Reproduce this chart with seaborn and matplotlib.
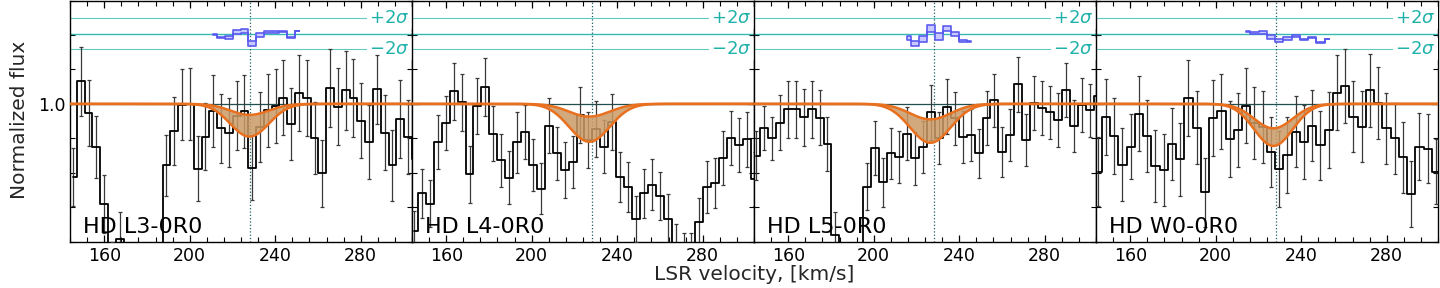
import numpy as np
import matplotlib
matplotlib.use("Agg")
import matplotlib.pyplot as plt
import matplotlib.transforms as mtransforms
from matplotlib.ticker import MultipleLocator
import seaborn as sns

panel_labels = ["HD L3-0R0", "HD L4-0R0", "HD L5-0R0", "HD W0-0R0"]

# velocity grid of each transition: first bin centre and bin width [km/s]
v_start = [145.4, 144.95, 144.9, 144.8]
v_step = [3.645, 3.708, 3.72, 3.86]

flux_l3 = [0.788, 1.065, 0.973, 0.876, 0.710, 0.52, 0.608, 0.45, 0.35, 0.30, 0.30, 0.38,
           0.822, 0.921, 0.998, 1.0, 0.812, 0.905, 0.98, 0.929, 0.916, 0.966, 0.978, 0.815,
           0.932, 0.981, 0.994, 1.018, 0.942, 1.031, 1.018, 0.90, 0.798, 1.046, 0.992, 1.039,
           1.016, 0.951, 0.89, 1.043, 0.916, 0.822, 0.956, 0.903, 0.84]
err_l3 = [0.083, 0.1, 0.095, 0.09, 0.085, 0.08, 0.078, 0.08, 0.08, 0.08, 0.08, 0.08,
          0.088, 0.099, 0.103, 0.104, 0.094, 0.097, 0.105, 0.10, 0.10, 0.10, 0.107, 0.094,
          0.102, 0.106, 0.107, 0.108, 0.104, 0.11, 0.11, 0.104, 0.098, 0.113, 0.112, 0.114,
          0.113, 0.109, 0.107, 0.10, 0.109, 0.103, 0.112, 0.107, 0.105]

flux_l4 = [0.63, 0.740, 0.71, 0.89, 0.944, 1.036, 1.004, 0.796, 0.994, 1.05, 0.914, 0.837,
           0.786, 0.888, 0.919, 0.822, 0.754, 0.936, 0.856, 0.808, 0.832, 0.968, 0.895, 0.927,
           0.876, 0.948, 0.788, 0.759, 0.667, 0.74, 0.766, 0.733, 0.667, 0.585, 0.56, 0.56,
           0.657, 0.759, 0.771, 0.842, 0.90, 0.88, 0.897, 0.783]
err_l4 = [0.06, 0.07, 0.068, 0.078, 0.079, 0.084, 0.082, 0.083, 0.082, 0.084, 0.08, 0.077,
          0.078, 0.088, 0.078, 0.075, 0.073, 0.08, 0.078, 0.08, 0.075, 0.081, 0.08, 0.08,
          0.078, 0.082, 0.073, 0.072, 0.067, 0.071, 0.073, 0.07, 0.07, 0.066, 0.065, 0.065,
          0.07, 0.075, 0.073, 0.078, 0.078, 0.078, 0.08, 0.078]

flux_l5 = [0.85, 0.93, 0.90, 0.945, 0.984, 0.984, 0.961, 0.984, 0.96, 0.883, 0.62, 0.5,
           0.5, 0.52, 0.759, 0.871, 0.772, 0.856, 0.845, 0.914, 0.842, 0.874, 0.976, 0.90,
           0.992, 0.958, 0.903, 0.91, 0.856, 0.958, 1.01, 0.861, 0.91, 1.057, 0.895, 1.002,
           0.987, 0.975, 0.953, 1.041, 0.936, 0.997, 0.981, 1.024]
err_l5 = [0.07, 0.065, 0.063, 0.08, 0.083, 0.083, 0.082, 0.083, 0.08, 0.079, 0.065, 0.065,
          0.065, 0.066, 0.068, 0.078, 0.07, 0.075, 0.075, 0.078, 0.077, 0.076, 0.08, 0.075,
          0.08, 0.076, 0.075, 0.075, 0.072, 0.078, 0.078, 0.073, 0.075, 0.08, 0.075, 0.079,
          0.078, 0.078, 0.078, 0.079, 0.076, 0.078, 0.078, 0.078]

flux_w0 = [0.803, 0.963, 0.907, 0.824, 0.876, 0.972, 0.907, 0.82, 0.808, 0.883, 0.839, 1.017,
           0.931, 0.744, 0.958, 0.978, 0.897, 0.924, 0.995, 0.944, 0.932, 0.861, 0.81, 0.851,
           0.919, 0.89, 0.936, 0.88, 0.924, 1.033, 1.052, 0.963, 0.934, 1.039, 1.002, 0.929,
           0.90, 0.845, 0.738, 0.876, 0.87, 0.803, 0.86]
err_w0 = [0.1, 0.11, 0.11, 0.105, 0.095, 0.11, 0.105, 0.105, 0.105, 0.105, 0.105, 0.11,
          0.105, 0.1, 0.11, 0.11, 0.11, 0.108, 0.11, 0.105, 0.105, 0.102, 0.11, 0.11,
          0.103, 0.108, 0.103, 0.1, 0.11, 0.11, 0.107, 0.103, 0.103, 0.106, 0.105, 0.103,
          0.103, 0.103, 0.095, 0.097, 0.1, 0.094, 0.1]

fluxes = [flux_l3, flux_l4, flux_l5, flux_w0]
errors = [err_l3, err_l4, err_l5, err_w0]

# absorption model: centre, shallow / deep solution depth, gaussian width
line_center = [228.0, 227.0, 226.5, 227.0]
depth_lo = [0.032, 0.037, 0.045, 0.071]
depth_hi = [0.095, 0.11, 0.113, 0.122]
line_width = [9.0, 9.5, 9.5, 9.0]
v_cloud = 228.0

# velocity range of the plotted fit residuals (none shown for L4)
resid_range = [(210, 252), None, (212, 246), (213, 254)]
resid_zero = 1.204
resid_sigma = 0.0225

sns.set_theme(style="ticks")
plt.rcParams["font.family"] = ["DejaVu Sans"]
plt.rcParams["mathtext.fontset"] = "dejavusans"

fig = plt.figure(figsize=(14.4, 2.88), dpi=100)
W, H = 1440.0, 288.0
ax_left, ax_w, ax_bot, ax_h = 70, 342, 46.3, 241.2

vv = np.linspace(140, 310, 600)
sig_col = "lightseagreen"

for i in range(4):
    ax = fig.add_axes([(ax_left + i * ax_w) / W, ax_bot / H, ax_w / W, ax_h / H])
    v = v_start[i] + v_step[i] * np.arange(len(fluxes[i]))
    f = np.array(fluxes[i])
    e = np.array(errors[i])

    # 2 sigma band of the residuals
    for yy in (resid_zero + 2 * resid_sigma, resid_zero - 2 * resid_sigma):
        ax.axhline(yy, color=sig_col, lw=0.8, alpha=0.7, zorder=1)
    ax.axhline(resid_zero, color=sig_col, lw=1.0, alpha=0.9, zorder=1)
    trans = mtransforms.blended_transform_factory(ax.transAxes, ax.transData)
    for yy, txt in ((resid_zero + 2 * resid_sigma, r"$+2\sigma$"),
                    (resid_zero - 2 * resid_sigma, r"$-2\sigma$")):
        ax.text(0.993, yy, txt, transform=trans, ha="right", va="center",
                color=sig_col, fontsize=13, zorder=3,
                bbox=dict(facecolor="white", edgecolor="none", pad=1.5))

    ax.axvline(v_cloud, color="#1f5f5f", ls=":", lw=0.9, zorder=2)
    ax.axhline(1.0, color="#1f4f4f", lw=0.9, zorder=2)

    # spectrum
    ax.errorbar(v, f, yerr=e, fmt="none", ecolor="#3a3a3a", elinewidth=0.9,
                capsize=1.6, capthick=0.9, zorder=3)
    sns.lineplot(x=v, y=f, ax=ax, drawstyle="steps-mid", color="black", lw=1.3,
                 estimator=None, sort=False, zorder=4)

    # model range
    m_lo = 1 - depth_lo[i] * np.exp(-0.5 * ((vv - line_center[i]) / line_width[i]) ** 2)
    m_hi = 1 - depth_hi[i] * np.exp(-0.5 * ((vv - line_center[i]) / line_width[i]) ** 2)
    ax.fill_between(vv, m_lo, m_hi, color="#c99a66", alpha=0.85, lw=0, zorder=5)
    ax.plot(vv, m_lo, color="#e8701e", lw=1.8, zorder=6)
    ax.plot(vv, m_hi, color="#e8701e", lw=1.8, zorder=6)

    # residuals
    if resid_range[i] is not None:
        r0, r1 = resid_range[i]
        sel = (v >= r0) & (v <= r1)
        ml = 1 - depth_lo[i] * np.exp(-0.5 * ((v - line_center[i]) / line_width[i]) ** 2)
        mh = 1 - depth_hi[i] * np.exp(-0.5 * ((v - line_center[i]) / line_width[i]) ** 2)
        ra = resid_zero + resid_sigma * (f - ml) / e
        rb = resid_zero + resid_sigma * (f - mh) / e
        ax.fill_between(v[sel], ra[sel], rb[sel], step="mid", facecolor="#c9c9ff",
                        edgecolor="#5b5bf0", lw=1.2, zorder=4)

    ax.text(0.037, 0.037, panel_labels[i], transform=ax.transAxes, fontsize=16,
            ha="left", va="baseline", color="black", zorder=7)

    ax.set_xlim(144, 304)
    ax.set_ylim(0.6, 1.3)
    ax.xaxis.set_major_locator(MultipleLocator(40))
    ax.xaxis.set_minor_locator(MultipleLocator(8))
    ax.yaxis.set_major_locator(MultipleLocator(0.5))
    ax.yaxis.set_minor_locator(MultipleLocator(0.1))
    ax.tick_params(which="both", direction="in", top=True, right=True, labelsize=12.5,
                   colors="black")
    ax.tick_params(which="major", length=5, width=0.9)
    ax.tick_params(which="minor", length=3.5, width=0.8)
    ax.set_xlabel("")
    ax.set_ylabel("")
    if i > 0:
        ax.set_yticklabels([])
    for s in ax.spines.values():
        s.set_color("black")
        s.set_linewidth(1.0)

fig.text(20 / W, 1 - 120 / H, "Normalized flux", rotation=90, ha="center", va="center",
         fontsize=14.5)
fig.text((ax_left + 2 * ax_w) / W, 1 - 275 / H, "LSR velocity, [km/s]", ha="center",
         va="center", fontsize=14.5)

fig.savefig("out.png", dpi=100)
